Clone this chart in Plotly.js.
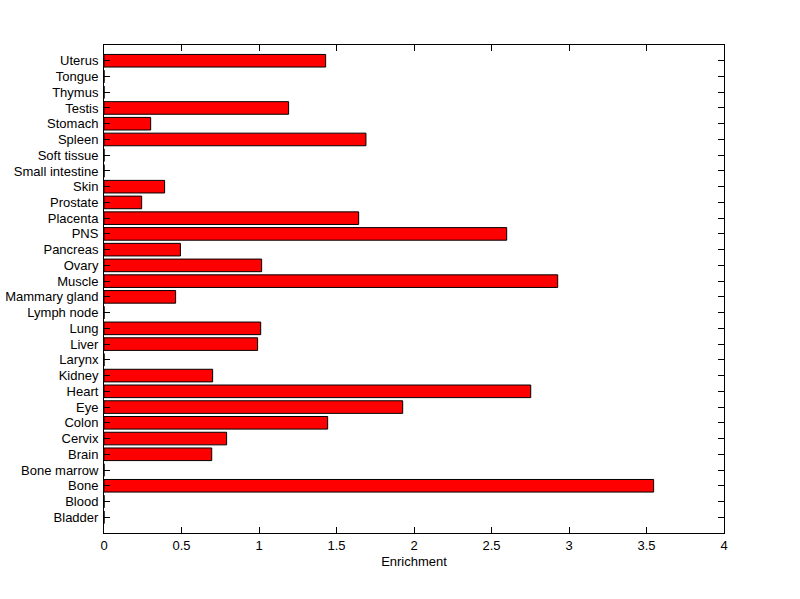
<!DOCTYPE html>
<html>
<head>
<meta charset="utf-8">
<script src="https://cdn.plot.ly/plotly-3.0.1.min.js"></script>
<style>html,body{margin:0;padding:0;background:#fff;}#chart{width:800px;height:599px;}</style>
</head>
<body>
<div id="chart"></div>
<script>
var tissues = ["Bladder","Blood","Bone","Bone marrow","Brain","Cervix","Colon","Eye","Heart","Kidney","Larynx","Liver","Lung","Lymph node","Mammary gland","Muscle","Ovary","Pancreas","PNS","Placenta","Prostate","Skin","Small intestine","Soft tissue","Spleen","Stomach","Testis","Thymus","Tongue","Uterus"];
var enrichment = [0,0,3.546,0,0.695,0.791,1.443,1.927,2.753,0.701,0,0.991,1.011,0,0.462,2.927,1.017,0.493,2.598,1.643,0.243,0.391,0,0,1.690,0.301,1.191,0,0,1.430];
var xTicks = [0,0.5,1,1.5,2,2.5,3,3.5,4];
var xTickText = ["0","0.5","1","1.5","2","2.5","3","3.5","4"];

var trace = {
  type: 'bar',
  orientation: 'h',
  x: enrichment,
  y: tissues,
  width: 0.8,
  marker: {color: '#ff0000', line: {color: '#000000', width: 1}},
  hoverinfo: 'x+y'
};

var layout = {
  width: 800, height: 599,
  margin: {l: 104, r: 76, t: 45, b: 66},
  paper_bgcolor: '#ffffff', plot_bgcolor: '#ffffff',
  font: {family: 'Liberation Sans, Arial, sans-serif', size: 13, color: '#000'},
  showlegend: false,
  bargap: 0.2,
  xaxis: {
    range: [0, 4],
    tickmode: 'array', tickvals: xTicks, ticktext: xTickText,
    ticks: 'inside', ticklen: 6, tickcolor: '#000', tickwidth: 1,
    showline: true, linecolor: '#000', linewidth: 1, mirror: 'ticks',
    showgrid: false, zeroline: false,
    title: {text: 'Enrichment', font: {size: 13}, standoff: 5},
    tickfont: {size: 13}
  },
  yaxis: {
    type: 'category',
    categoryorder: 'array', categoryarray: tissues,
    tickmode: 'array', tickvals: tissues, ticktext: tissues,
    range: [-1, 30],
    ticks: 'inside', ticklen: 6, tickcolor: '#000', tickwidth: 1,
    showline: true, linecolor: '#000', linewidth: 1, mirror: 'ticks',
    showgrid: false, zeroline: false,
    tickfont: {size: 13},
    ticklabelstandoff: 2
  }
};

Plotly.newPlot('chart', [trace], layout, {displayModeBar: false, staticPlot: true});
</script>
</body>
</html>
